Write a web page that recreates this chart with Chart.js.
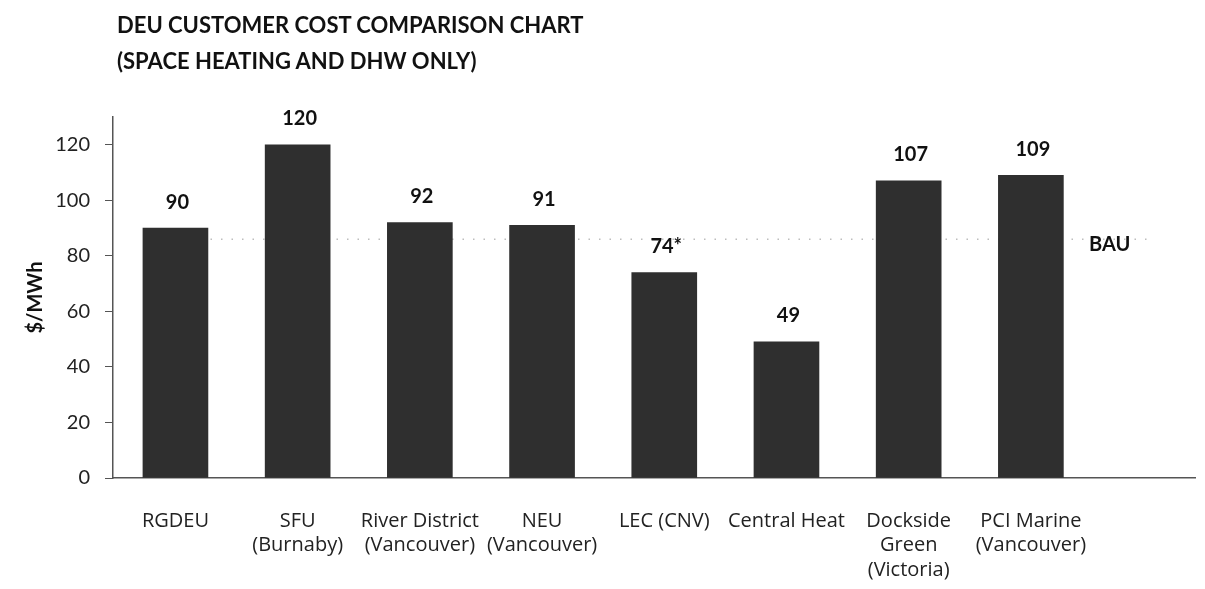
<!DOCTYPE html>
<html>
<head>
<meta charset="utf-8">
<script src="https://cdn.jsdelivr.net/npm/chart.js@4"></script>
<style>
  html, body { margin: 0; padding: 0; background: #fff; }
  #wrap { position: relative; width: 1205px; height: 589px; }
  #title {
    position: absolute; left: 117px; top: 7px;
    font-family: Lato, sans-serif; font-weight: bold; font-size: 22px;
    line-height: 36px; color: #111;
  }
  canvas { position: absolute; left: 0; top: 0; }
</style>
</head>
<body>
<div id="wrap">
  <canvas id="costChart" width="1205" height="589"></canvas>
  <div id="title">DEU CUSTOMER COST COMPARISON CHART<br>(SPACE HEATING AND DHW ONLY)</div>
</div>
<script>
// chart values
const categories = [
  ['RGDEU'],
  ['SFU', '(Burnaby)'],
  ['River District', '(Vancouver)'],
  ['NEU', '(Vancouver)'],
  ['LEC (CNV)'],
  ['Central Heat'],
  ['Dockside', 'Green', '(Victoria)'],
  ['PCI Marine', '(Vancouver)']
];
const costs = [90, 120, 92, 91, 74, 49, 107, 109];
const valueLabels = ['90', '120', '92', '91', '74*', '49', '107', '109'];
const yTicks = [0, 20, 40, 60, 80, 100, 120];
const bauValue = 86;
const bauLabel = 'BAU';

const FONT = 'Lato, sans-serif';

// dotted BAU reference line + label
const bauLine = {
  id: 'bauLine',
  beforeDatasetsDraw(chart) {
    const ctx = chart.ctx;
    const y = chart.scales.y.getPixelForValue(bauValue);
    ctx.save();
    ctx.strokeStyle = '#bdbdbd';
    ctx.lineWidth = 1.5;
    ctx.setLineDash([1.5, 9]);
    ctx.beginPath();
    ctx.moveTo(200, y);
    ctx.lineTo(1150, y);
    ctx.stroke();
    ctx.setLineDash([]);
    ctx.fillStyle = '#111';
    ctx.font = 'bold 20px ' + FONT;
    ctx.textAlign = 'left';
    ctx.textBaseline = 'middle';
    ctx.fillText(bauLabel, 1089, y + 5);
    ctx.restore();
  }
};

// value labels above the bars
const barLabels = {
  id: 'barLabels',
  afterDatasetsDraw(chart) {
    const ctx = chart.ctx;
    const meta = chart.getDatasetMeta(0);
    ctx.save();
    ctx.fillStyle = '#111';
    ctx.font = 'bold 20px ' + FONT;
    ctx.textAlign = 'center';
    ctx.textBaseline = 'middle';
    meta.data.forEach((bar, i) => {
      ctx.fillText(valueLabels[i], bar.x + 2, bar.y - 26);
    });
    ctx.restore();
  }
};

const ctx = document.getElementById('costChart').getContext('2d');
new Chart(ctx, {
  type: 'bar',
  data: {
    datasets: [{
      data: costs.map((v, i) => ({ x: i, y: v })),
      backgroundColor: '#2f2f2f',
      borderWidth: 0,
      barThickness: 65
    }]
  },
  options: {
    responsive: false,
    animation: false,
    layout: { padding: { left: 0, right: 10, top: 117, bottom: 0 } },
    plugins: {
      legend: { display: false },
      tooltip: { enabled: false }
    },
    scales: {
      x: {
        type: 'linear',
        offset: false,
        min: -0.511,
        max: 8.343,
        afterBuildTicks(scale) {
          scale.ticks = categories.map((c, i) => ({ value: i }));
        },
        afterFit(scale) { scale.height = 111; },
        grid: { display: false },
        border: { display: true, color: '#555', width: 1.5 },
        ticks: {
          autoSkip: false,
          maxRotation: 0,
          padding: 23,
          color: '#222',
          font: { family: '"Open Sans", sans-serif', size: 20, lineHeight: 1.22 },
          callback: (value) => categories[value] || ''
        }
      },
      y: {
        min: 0,
        max: 130,
        afterBuildTicks(scale) {
          scale.ticks = yTicks.map(v => ({ value: v }));
        },
        afterFit(scale) { scale.width = 113; },
        grid: { drawOnChartArea: false, drawTicks: true, tickLength: 8, color: '#555' },
        border: { display: true, color: '#555', width: 1.5 },
        ticks: {
          padding: 15,
          color: '#222',
          font: { family: FONT, size: 20 }
        },
        title: {
          display: true,
          text: '$/MWh',
          color: '#111',
          font: { family: FONT, size: 20, weight: 'bold' },
          padding: { top: 24, bottom: 0 }
        }
      }
    }
  },
  plugins: [bauLine, barLabels]
});
</script>
</body>
</html>
